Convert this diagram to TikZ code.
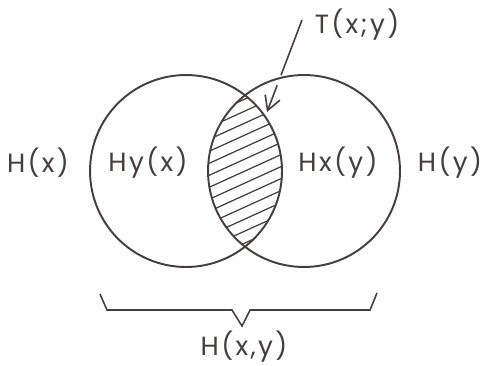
\documentclass[tikz,border=0pt]{standalone}
\usepackage{fontspec}
\setmainfont[LetterSpace=9]{Poppins}
\usetikzlibrary{arrows.meta,calc}
\definecolor{inkcol}{RGB}{70,62,62}
\tikzset{
  % entropy circle
  venn/.style={circle, draw=inkcol, line width=1.1pt, minimum size=3.84cm, inner sep=0pt},
  % text label
  hlabel/.style={font=\fontsize{15}{17}\selectfont, text=inkcol, inner sep=1pt},
  % hatch line
  hatch/.style={draw=inkcol, line width=0.7pt},
  % pointer arrow
  pointer/.style={draw=inkcol, line width=0.9pt},
}
\begin{document}
\begin{tikzpicture}[x=0.02cm, y=-0.02cm]
  \useasboundingbox (0,0) rectangle (482,365);
  % two circles
  \node[venn] (hx) at (186,171) {};
  \node[venn] (hy) at (304,171) {};
  % hatched overlap
  \begin{scope}
    \clip (hx.center) circle[radius=1.92cm];
    \clip (hy.center) circle[radius=1.92cm];
    \foreach \k in {0,...,18}
      \draw[hatch] (190,100+12*\k) -- (300,50+12*\k);
  \end{scope}
  % labels
  \node[hlabel] (hxout) at (38,163) {H(x)};
  \node[hlabel] (hyx) at (148,163) {Hy(x)};
  \node[hlabel] (hxy) at (338,163) {Hx(y)};
  \node[hlabel] (hyout) at (450,163) {H(y)};
  \node[hlabel] (txy) at (357,25) {T(x;y)};
  \node[hlabel] (hjoint) at (244,347) {H(x,y)};
  % arrow to the overlap
  \coordinate (tail) at (302,20);
  \coordinate (tip) at (267,112);
  \draw[pointer] (tail) -- ($(tail)!0.6!(tip)$);
  \draw[pointer, -{Straight Barb[length=8pt,width=9pt]}] ($(tail)!0.71!(tip)$) -- (tip);
  % brace under the circles
  \coordinate (bl) at (100,294);
  \coordinate (br) at (377,293);
  \draw[pointer] (bl) -- (107,310) -- (232,310) -- (242,326) -- (250,310) -- (370,310) -- (br);
\end{tikzpicture}
\end{document}
